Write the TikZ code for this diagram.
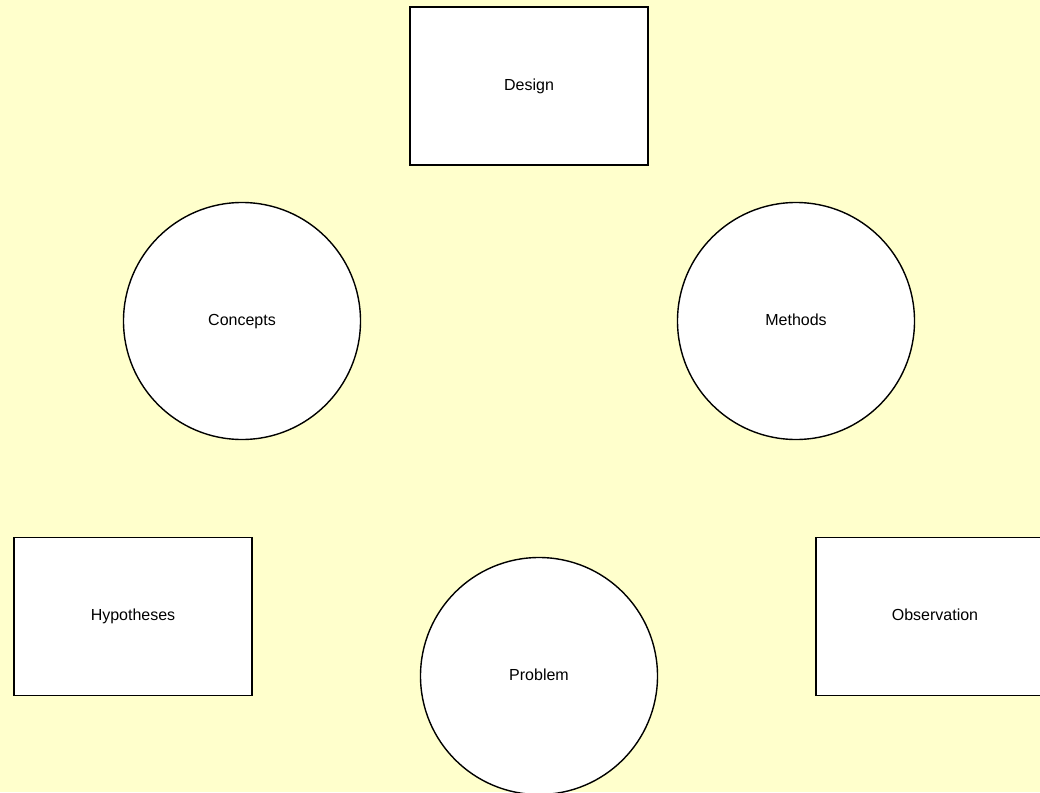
\documentclass[tikz,border=0pt]{standalone}
\usepackage{fontspec}
\setmainfont{Liberation Sans}
\definecolor{bg}{HTML}{FFFFCC}
\begin{document}
\begin{tikzpicture}[x=1pt,y=-1pt,
  lbl/.style={font=\fontsize{16}{18}\selectfont, text=black, text height=11.5pt, text depth=3.5pt},
  boxshape/.style={draw=black, line width=1.4pt, fill=white, rectangle, minimum width=238pt, minimum height=158pt, inner sep=0pt, lbl},
  circshape/.style={draw=black, line width=1.4pt, fill=white, circle, minimum size=237pt, inner sep=0pt, lbl}]
\useasboundingbox (0,0) rectangle (1040,792);
\clip (0,0) rectangle (1040,792);
\fill[bg] (0,0) rectangle (1040,792);
\node[boxshape] (design) at (529,86) {Design};
\node[circshape] (concepts) at (242,321) {Concepts};
\node[circshape] (methods) at (796,321) {Methods};
\node[boxshape] (hyp) at (133,616.5) {Hypotheses};
\node[boxshape] (obs) at (935,616.5) {Observation};
\node[circshape] (problem) at (539,676) {Problem};
\end{tikzpicture}
\end{document}
